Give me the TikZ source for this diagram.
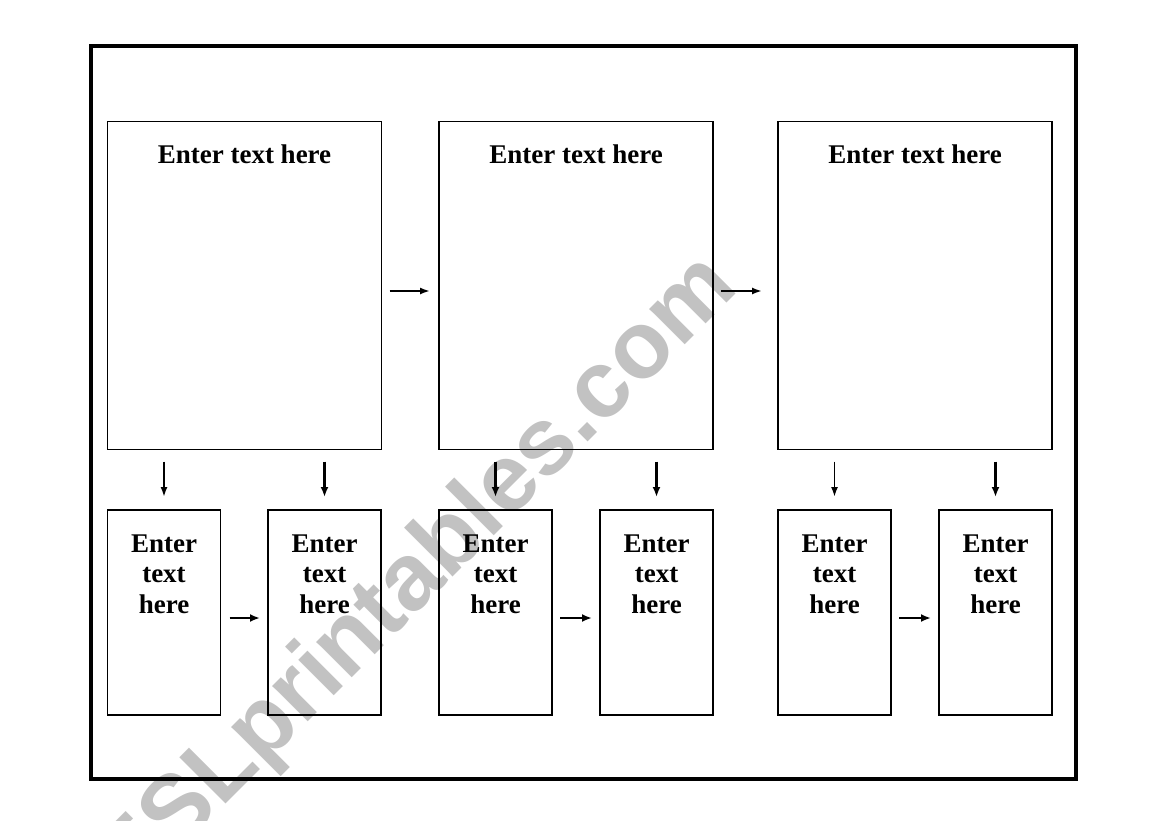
\documentclass[tikz,border=0pt]{standalone}
\usepackage{fontspec}
\setmainfont{Liberation Serif}
\newfontfamily\wmfont{Liberation Sans}
\usetikzlibrary{arrows.meta}
\definecolor{wmgray}{RGB}{194,194,194}
\begin{document}
\begin{tikzpicture}[x=1pt,y=-1pt,
  frame/.style={draw=black,line width=4pt},
  bigbox/.style={draw=black,line width=1.3pt,minimum width=274pt,minimum height=328pt,anchor=north west,inner sep=0pt,outer sep=0pt},
  smallbox/.style={draw=black,line width=1.3pt,minimum width=113pt,minimum height=205pt,anchor=north west,inner sep=0pt,outer sep=0pt},
  biglbl/.style={font=\bfseries\fontsize{27}{30.5}\selectfont,anchor=base,inner sep=0pt},
  smalllbl/.style={font=\bfseries\fontsize{27}{30.5}\selectfont,align=center,anchor=base,inner sep=0pt},
  thinarrow/.style={line width=1.8pt,-{Latex[length=10pt,width=7pt]}},
  thickarrow/.style={line width=2.6pt,-{Latex[length=10pt,width=8pt]}},
  watermark/.style={text=wmgray,font=\wmfont\bfseries\fontsize{95}{95}\selectfont,inner sep=0pt,rotate=45,anchor=base east}]
\useasboundingbox (0,0) rectangle (1169,821);
% watermark
\node[watermark] (wm) at (740,290) {ESLprintables.com};
% outer frame
\node[frame,anchor=north west,inner sep=0pt,outer sep=0pt,minimum width=984.7pt,minimum height=732.7pt] (outer) at (91.3,46.3) {};
% big boxes
\node[bigbox] (b1) at (107.5,121.5) {};
\node[bigbox] (b2) at (439,121.5) {};
\node[bigbox] (b3) at (778,121.5) {};
% small boxes
\node[smallbox] (s1) at (107.5,510) {};
\node[smallbox] (s2) at (268,510) {};
\node[smallbox] (s3) at (439,510) {};
\node[smallbox] (s4) at (600,510) {};
\node[smallbox] (s5) at (778,510) {};
\node[smallbox] (s6) at (939,510) {};
% labels
\node[biglbl] (t1) at (244.5,164) {Enter text here};
\node[biglbl] (t2) at (576,164) {Enter text here};
\node[biglbl] (t3) at (915,164) {Enter text here};
\node[smalllbl] (u1) at (s1.north |- 0,613) {Enter\\text\\here};
\node[smalllbl] (u2) at (s2.north |- 0,613) {Enter\\text\\here};
\node[smalllbl] (u3) at (s3.north |- 0,613) {Enter\\text\\here};
\node[smalllbl] (u4) at (s4.north |- 0,613) {Enter\\text\\here};
\node[smalllbl] (u5) at (s5.north |- 0,613) {Enter\\text\\here};
\node[smalllbl] (u6) at (s6.north |- 0,613) {Enter\\text\\here};
% top horizontal arrows
\draw[thinarrow,shorten <=8pt,shorten >=9pt] ([yshift=-5.5pt]b1.east) -- ([yshift=-5.5pt]b2.west);
\draw[thinarrow,shorten <=8pt,shorten >=16pt] ([yshift=-5.5pt]b2.east) -- ([yshift=-5.5pt]b3.west);
% down arrows
\draw[thinarrow,shorten <=12pt,shorten >=13pt] (b1.south -| s1.north) -- (s1.north);
\draw[thickarrow,shorten <=12pt,shorten >=13pt] (b1.south -| s2.north) -- (s2.north);
\draw[thickarrow,shorten <=12pt,shorten >=13pt] (b2.south -| s3.north) -- (s3.north);
\draw[thickarrow,shorten <=12pt,shorten >=13pt] (b2.south -| s4.north) -- (s4.north);
\draw[thinarrow,shorten <=12pt,shorten >=13pt] (b3.south -| s5.north) -- (s5.north);
\draw[thickarrow,shorten <=12pt,shorten >=13pt] (b3.south -| s6.north) -- (s6.north);
% bottom horizontal arrows
\draw[thickarrow,shorten <=9pt,shorten >=8pt] ([yshift=-5.5pt]s1.east) -- ([yshift=-5.5pt]s2.west);
\draw[thickarrow,shorten <=8pt,shorten >=8pt] ([yshift=-5.5pt]s3.east) -- ([yshift=-5.5pt]s4.west);
\draw[thickarrow,shorten <=8pt,shorten >=8pt] ([yshift=-5.5pt]s5.east) -- ([yshift=-5.5pt]s6.west);
\end{tikzpicture}
\end{document}
